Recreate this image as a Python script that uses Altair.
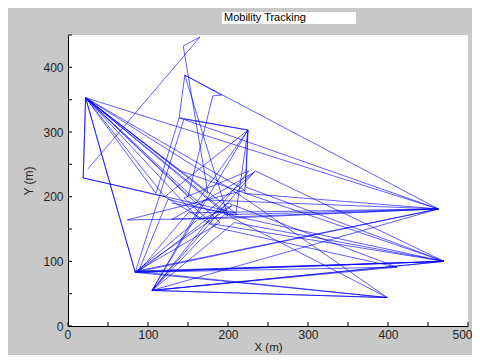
import altair as alt
import pandas as pd

# trajectory points (X m, Y m), in visiting order
xs = [25, 165, 144, 175, 22, 206, 463, 105, 470, 84,
      22, 121, 225, 139, 146, 192, 181, 150, 22, 221,
      74, 206, 399, 105, 234, 470, 86, 463, 22, 84,
      145, 225, 210, 19, 22, 19, 121, 186, 411, 84,
      463, 139, 110, 22, 160, 225, 222, 470, 105, 208,
      470, 84, 399, 105, 225, 221, 463, 146, 200, 22,
      190, 84, 233, 130, 463, 170, 105, 411, 200, 88,
      125, 215, 470, 140, 22, 218, 399, 88, 150, 463,
      195, 105, 226, 145, 180, 470, 84, 205, 165, 22,
      212, 130]
ys = [243, 447, 433, 205, 353, 167, 181, 55, 100, 83,
      353, 200, 303, 322, 388, 357, 356, 200, 353, 210,
      164, 167, 44, 55, 240, 100, 85, 181, 353, 83,
      320, 303, 175, 229, 353, 229, 200, 152, 91, 83,
      181, 322, 205, 353, 190, 303, 215, 100, 55, 160,
      100, 83, 44, 55, 303, 205, 181, 388, 170, 353,
      160, 83, 238, 165, 181, 195, 55, 91, 190, 84,
      196, 168, 100, 240, 353, 200, 44, 84, 175, 181,
      172, 55, 240, 198, 158, 100, 84, 186, 164, 353,
      172, 190]

x_ticks = [0, 50, 100, 150, 200, 250, 300, 350, 400, 450, 500]
y_ticks = [0, 50, 100, 150, 200, 250, 300, 350, 400, 450]
title_text = "Mobility Tracking"

df = pd.DataFrame({"x": xs, "y": ys, "i": list(range(len(xs)))})
xt = pd.DataFrame({"t": x_ticks})
yt = pd.DataFrame({"t": y_ticks})

W, H = 400, 291
font = "Liberation Sans"

xscale = alt.Scale(domain=[0, 500], nice=False, zero=False)
yscale = alt.Scale(domain=[0, 450], nice=False, zero=False)

line = alt.Chart(df).mark_line(color="#0000ff", strokeWidth=0.9, opacity=0.7).encode(
    x=alt.X("x:Q", scale=xscale, title="X (m)",
            axis=alt.Axis(values=x_ticks, tickSize=0, labelPadding=3, grid=False,
                          labelFlush=True, labelFlushOffset=4, titlePadding=1,
                          domainColor="black", labelColor="#222", labelFontSize=12,
                          titleFontSize=11.5, titleFontWeight="normal", labelFont=font,
                          titleFont=font, titleColor="#222")),
    y=alt.Y("y:Q", scale=yscale, title="Y (m)",
            axis=alt.Axis(values=y_ticks, tickSize=0, labelPadding=5, grid=False,
                          labelFlush=False, titlePadding=7, domainColor="black",
                          labelColor="#222", labelFontSize=12, titleFontSize=12,
                          titleFontWeight="normal", labelFont=font, titleFont=font,
                          titleColor="#222")),
    order="i:Q",
)

xtick = alt.Chart(xt).mark_rule(color="black", strokeWidth=1).encode(
    x=alt.X("t:Q", scale=xscale), y=alt.value(H), y2=alt.value(H - 4))
ytick = alt.Chart(yt).mark_rule(color="black", strokeWidth=1).encode(
    y=alt.Y("t:Q", scale=yscale), x=alt.value(0), x2=alt.value(4))

tbox = alt.Chart(pd.DataFrame({"t": [title_text]})).mark_rect(color="white").encode(
    x=alt.value(154), x2=alt.value(288), y=alt.value(-23), y2=alt.value(-11))
ttext = alt.Chart(pd.DataFrame({"t": [title_text]})).mark_text(
    align="left", baseline="middle", fontSize=11, font=font, color="black").encode(
    x=alt.value(156), y=alt.value(-17), text="t:N")

chart = alt.layer(line, xtick, ytick, tbox, ttext).properties(
    width=W, height=H,
    autosize=alt.AutoSizeParams(type="none"),
    padding={"left": 60, "top": 27, "right": 4, "bottom": 29},
    background="#c8c8c8",
).configure_view(fill="white", stroke=None)

chart.save("out.html", embed_options={"renderer": "svg", "actions": False})
